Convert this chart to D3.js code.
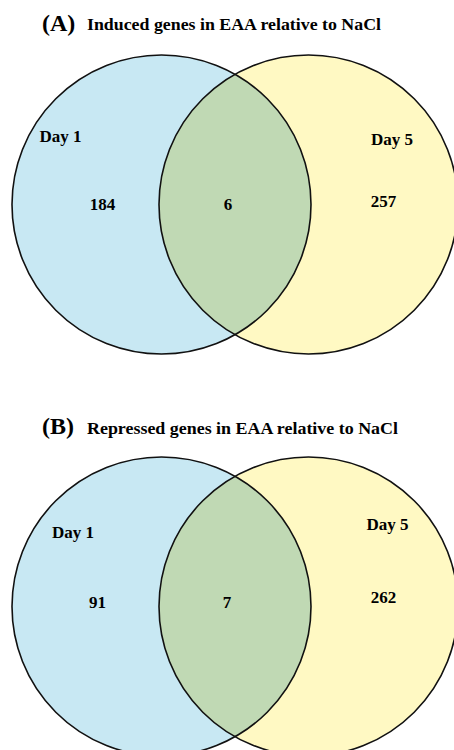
<!DOCTYPE html>
<html>
<head>
<meta charset="utf-8">
<script src="https://cdn.jsdelivr.net/npm/d3@7/dist/d3.min.js"></script>
<style>
  html, body { margin: 0; padding: 0; background: #ffffff; }
  svg { display: block; }
  text { font-family: "Liberation Serif", "Times New Roman", Times, serif; font-weight: bold; fill: #000; }
</style>
</head>
<body>
<svg id="chart" width="454" height="750"></svg>
<script>
// Two-set Venn diagrams: genes changed at Day 1 vs Day 5
const panelTags   = ["(A)", "(B)"];
const panelTitles = ["Induced genes in EAA relative to NaCl", "Repressed genes in EAA relative to NaCl"];
const setNames    = ["Day 1", "Day 5"];
const onlyDay1    = [184, 91];
const sharedGenes = [6, 7];
const onlyDay5    = [257, 262];

const W = 454, H = 750;
const svg = d3.select("#chart");

// Layout of each panel
const panelTop = d3.scalePoint().domain(panelTags).range([0, 402]);
const cx = d3.scalePoint().domain(setNames).range([161.5, 308.5]);
const R = 149.5;
const cy = 204.5;
const fills = { "Day 1": "#c8e8f3", "Day 5": "#fff9c3" };
const overlapFill = "#c0d9b4";

// label placement inside each panel (per panel tweaks)
const labelPos = [
  { day1: [60.5, 142], day5: [392, 145], n1: [102.5, 210], n12: [228, 210], n5: [383.5, 207] },
  { day1: [73, 136],   day5: [387.5, 128], n1: [97.5, 206], n12: [227, 206], n5: [383.5, 201] }
];

const defs = svg.append("defs");

panelTags.forEach((tag, i) => {
  const g = svg.append("g").attr("transform", `translate(0,${panelTop(tag)})`);

  // heading
  g.append("text").attr("x", 42).attr("y", 31 + (i ? 1 : 0))
    .attr("font-size", 24).text(tag);
  g.append("text").attr("x", 87).attr("y", 29.5 + (i ? 2 : 0))
    .attr("font-size", 17).attr("textLength", i ? 311 : 294).attr("lengthAdjust", "spacingAndGlyphs")
    .text(panelTitles[i]);

  // circle fills
  setNames.forEach(s => {
    g.append("circle").attr("cx", cx(s)).attr("cy", cy).attr("r", R).attr("fill", fills[s]);
  });

  // overlap region
  const clipId = "clip" + i;
  defs.append("clipPath").attr("id", clipId)
    .append("circle").attr("cx", cx(setNames[0])).attr("cy", cy + panelTop(tag)).attr("r", R);
  svg.append("circle")
    .attr("cx", cx(setNames[1])).attr("cy", cy + panelTop(tag)).attr("r", R)
    .attr("fill", overlapFill).attr("clip-path", `url(#${clipId})`);

  // outlines on top
  const o = svg.append("g").attr("transform", `translate(0,${panelTop(tag)})`);
  setNames.forEach(s => {
    o.append("circle").attr("cx", cx(s)).attr("cy", cy).attr("r", R)
      .attr("fill", "none").attr("stroke", "#111").attr("stroke-width", 1.6);
  });

  // labels
  const lp = labelPos[i];
  const lbl = (pos, txt) => o.append("text").attr("x", pos[0]).attr("y", pos[1])
    .attr("text-anchor", "middle").attr("font-size", 17).text(txt);
  lbl(lp.day1, setNames[0]);
  lbl(lp.day5, setNames[1]);
  lbl(lp.n1, onlyDay1[i]);
  lbl(lp.n12, sharedGenes[i]);
  lbl(lp.n5, onlyDay5[i]);
});
</script>
</body>
</html>
